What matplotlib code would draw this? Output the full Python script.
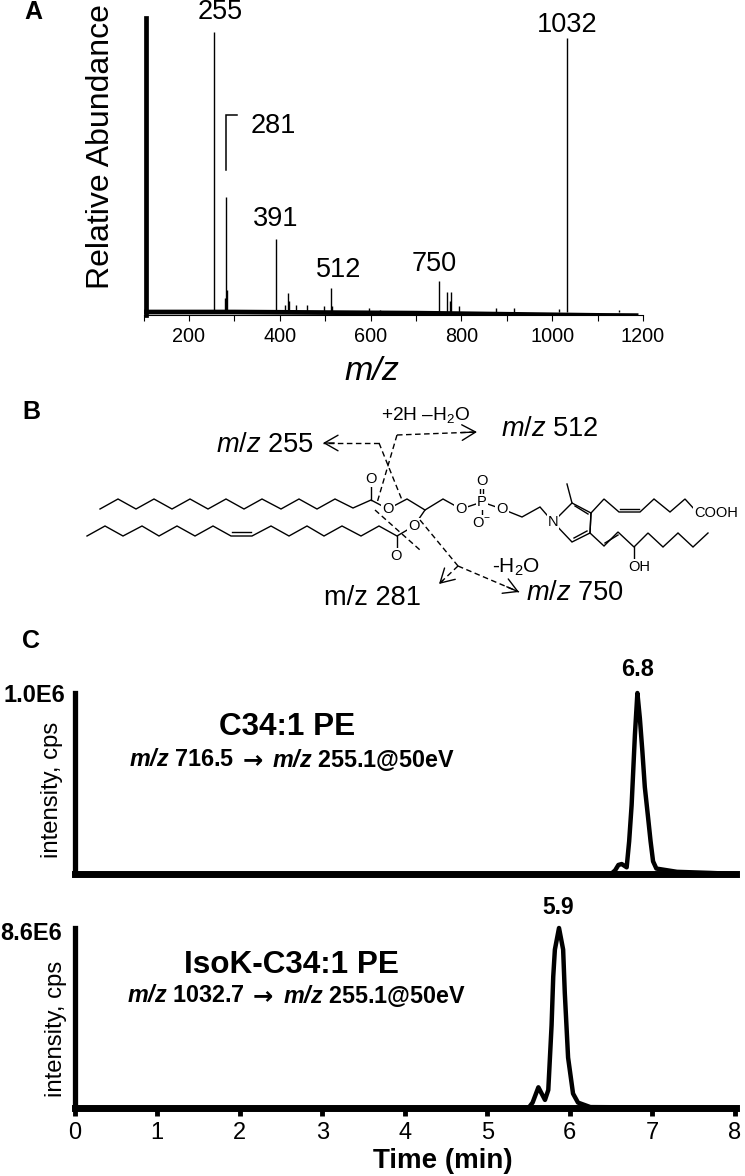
import matplotlib
matplotlib.use('Agg')
import matplotlib.pyplot as plt

plt.rcParams.update({
    'font.family': ['Liberation Sans', 'DejaVu Sans'],
    'mathtext.fontset': 'custom',
    'mathtext.rm': 'Liberation Sans',
    'mathtext.it': 'Liberation Sans:italic',
    'mathtext.bf': 'Liberation Sans:bold',
    'mathtext.bfit': 'Liberation Sans:italic:bold',
    'mathtext.default': 'regular',
})

# ---- data: panel A (MS/MS spectrum)
spec_mz = [255, 279, 281, 283, 391, 411, 418, 421, 436, 459, 497, 512, 515, 597, 620, 654,
           750, 768, 774, 778, 794, 876, 917, 1015, 1032, 1148]
spec_int = [100, 5, 41, 8, 26, 2.5, 6.9, 4, 2.5, 2.5, 2.3, 8.7, 2, 1.5, 0.6, 0.4,
            11, 7, 4, 7, 2, 1.5, 1.5, 1, 98, 0.6]
base_mz = [100, 300, 500, 700, 900, 1100, 1190]
base_int = [0, 0, -0.2, -0.4, -0.8, -1.2, -1.3]
spec_ticks = [100, 200, 300, 400, 500, 600, 700, 800, 900, 1000, 1100, 1200]
spec_ticklabels = ['', '200', '', '400', '', '600', '', '800', '', '1000', '', '1200']

# ---- data: panel C (chromatograms)
c1_time = [0, 6.50, 6.55, 6.59, 6.63, 6.69, 6.72, 6.75, 6.79, 6.82, 6.85, 6.88, 6.91, 6.95, 6.98, 7.01, 7.05, 7.3, 7.7, 8.02]
c1_int = [0, 0, 2, 5, 5.5, 3.7, 18, 38, 77, 100, 86, 68, 48, 31, 18, 7, 3, 1.2, 0.6, 0]
c2_time = [0, 5.50, 5.55, 5.62, 5.70, 5.74, 5.76, 5.78, 5.80, 5.82, 5.87, 5.92, 5.94, 5.98, 6.04, 6.10, 6.25, 8.02]
c2_int = [0, 0, 3, 11.5, 4.5, 10, 28, 46, 73, 88, 100, 88, 64, 28, 8, 3, 0.5, 0]
time_ticks = [0, 1, 2, 3, 4, 5, 6, 7, 8]

# ---- structure drawing (figure pixels)
chain_upper = [(100, 509), (118, 499), (136, 509), (154, 499), (172, 509), (190, 499), (208, 509), (226, 499),
               (244, 509), (262, 499), (281, 509), (299, 499), (317, 509), (335, 499), (353, 508), (371, 500),
               (388, 509), (407, 499), (425, 510), (443, 499), (461, 509), (482, 502), (502, 509), (522, 517),
               (540, 507), (553, 522), (572, 503), (591, 513), (590, 533), (572, 542), (553, 522)]
chain_lower = [(87, 536), (105, 526), (123, 536), (142, 526), (159, 536), (177, 526), (195, 536), (213, 526),
               (231, 536), (252, 536), (271, 526), (289, 536), (307, 526), (324, 536), (342, 526), (361, 536),
               (379, 526), (397, 536), (414, 526), (425, 510)]
chain_top = [(591, 513), (604, 499), (619, 512), (640, 512), (654, 499), (670, 512), (685, 499), (695, 510)]
chain_bot = [(590, 533), (604, 546), (618, 532), (634, 547), (648, 533), (663, 547), (678, 533), (693, 547), (708, 533)]
extra_bonds = [[(371, 500), (371, 482)], [(397, 536), (397, 553)], [(482, 502), (482, 520)],
               [(572, 503), (567, 484)], [(634, 547), (634, 562)],
               [(232, 532), (251, 532)], [(620, 509), (639, 509)], [(605, 543), (618, 535)],
               [(575, 506), (588, 514)], [(574, 538), (587, 531)], [(591, 513), (590, 533)]]
double_p = [[(480.3, 487), (480.3, 497)], [(483.2, 487), (483.2, 497)]]
atoms = [(371, 479, 'O'), (388, 509, 'O'), (396, 556, 'O'), (414, 526, 'O'), (461, 509, 'O'), (482, 502, 'P'),
         (482, 481, 'O'), (482, 523, 'O$^{-}$'), (502, 509, 'O'), (553, 522, 'N'), (716, 513, 'COOH'), (639, 567, 'OH')]
dashed = [[(379, 443), (402, 500)], [(397, 435), (377, 503)], [(375, 510), (420, 550)], [(420, 520), (458, 566)]]
dash_arrows = [[(379, 443), (323, 443)], [(397, 435), (477, 432)], [(458, 566), (439, 584)], [(458, 566), (519, 592)]]

W, H = 745, 1176
fig = plt.figure(figsize=(W / 100, H / 100), dpi=100, facecolor='white')


def axes_px(left, top, right, bottom):
    return fig.add_axes([left / W, 1 - bottom / H, (right - left) / W, (bottom - top) / H], facecolor='none')


# ---- panel A
axA = axes_px(143.5, 18, 643, 315)
axA.set_xlim(100, 1200)
axA.set_ylim(-1.07, 105)
axA.vlines(spec_mz, 0, spec_int, color='black', lw=1.0)
axA.plot(base_mz, base_int, color='black', lw=3.4, solid_capstyle='butt')
for s in ('top', 'right'):
    axA.spines[s].set_visible(False)
axA.spines['bottom'].set_linewidth(0.8)
axA.spines['left'].set_linewidth(3.4)
axA.spines['left'].set_position(('outward', -1.8))
axA.set_yticks([])
axA.set_xticks(spec_ticks, spec_ticklabels)
axA.tick_params(axis='x', length=4, width=0.8, labelsize=14.3, pad=5)

# ---- panel C
for (t, v, top, bottom) in ((c1_time, c1_int, 693, 874), (c2_time, c2_int, 928, 1108)):
    ax = axes_px(74.7, top, 736.4, bottom)
    ax.set_xlim(0, 8.02)
    ax.set_ylim(0, 100)
    ax.plot(t, v, color='black', lw=3.2, clip_on=False, solid_joinstyle='round')
    for s in ('top', 'right'):
        ax.spines[s].set_visible(False)
    ax.spines['left'].set_linewidth(3.8)
    ax.spines['bottom'].set_linewidth(5)
    ax.set_yticks([])
    if bottom == 1108:
        ax.set_xticks(time_ticks)
        ax.tick_params(axis='x', length=6, width=3.5, labelsize=17, pad=4)
    else:
        ax.set_xticks([])

# ---- overlay for labels and structure
ov = fig.add_axes([0, 0, 1, 1], facecolor='none', zorder=5)
ov.set_xlim(0, W)
ov.set_ylim(H, 0)
ov.axis('off')


def polyline(pts, **kw):
    xs, ys = zip(*pts)
    style = dict(color='black', lw=1.0, solid_joinstyle='miter', zorder=2)
    style.update(kw)
    ov.plot(xs, ys, **style)


def txt(x, y, s, size, **kw):
    style = dict(ha='center', va='center', fontsize=size, color='black')
    style.update(kw)
    ov.text(x, y, s, **style)


for pts in (chain_upper, chain_lower, chain_top, chain_bot):
    polyline(pts)
for pts in extra_bonds + double_p:
    polyline(pts)
for x, y, s in atoms:
    txt(x, y, s, 10.5, zorder=3, bbox=dict(facecolor='white', edgecolor='none', pad=0.6))
for pts in dashed:
    polyline(pts, ls=(0, (4, 2.5)), lw=1.0, zorder=4)
for pts in dash_arrows:
    polyline(pts, ls=(0, (4, 2.5)), lw=1.0, zorder=4)
    (x0, y0), (x1, y1) = pts
    ov.annotate('', xy=(x1, y1), xytext=(x1 + (x0 - x1) * 0.2, y1 + (y0 - y1) * 0.2),
                arrowprops=dict(arrowstyle='->,head_length=0.7,head_width=0.4', lw=1.0, color='black',
                                shrinkA=0, shrinkB=0, mutation_scale=14), zorder=4)

# panel letters
txt(33.5, 12, 'A', 18, fontweight='bold')
txt(31, 412, 'B', 18, fontweight='bold')
txt(31, 641, 'C', 18, fontweight='bold')

# panel A labels
txt(220, 12, '255', 19.5)
txt(567, 25, '1032', 19.5)
txt(273, 126, '281', 19.5)
txt(276, 219, '391', 19.5)
txt(339, 270, '512', 19.5)
txt(434, 264, '750', 19.5)
polyline([(237, 115), (226, 115), (226, 170)], lw=1.1)
txt(101, 147, 'Relative Abundance', 23, rotation=90)
txt(372, 372, 'm/z', 24.5, style='italic')

# panel B labels
IT = r'$\mathit{m/z}$'
txt(265, 445, IT + ' 255', 19.6)
txt(550, 429, IT + ' 512', 19.6)
txt(575, 593, IT + ' 750', 19.6)
txt(373, 598, 'm/z 281', 19.6)
txt(426, 415, '+2H –H$_{2}$O', 13.8)
txt(516, 567, '-H$_{2}$O', 15)

# panel C labels
BI = r'$\mathbfit{m/z}$'
txt(34, 695, '1.0E6', 17, fontweight='bold')
txt(31, 933, '8.6E6', 17, fontweight='bold')
txt(52, 790, 'intensity, cps', 17.2, rotation=90)
txt(56, 1029, 'intensity, cps', 17.2, rotation=90)
txt(287, 727, 'C34:1 PE', 22.7, fontweight='bold')
txt(291, 965, 'IsoK-C34:1 PE', 22.7, fontweight='bold')
txt(129, 760, BI + ' 716.5', 16.8, fontweight='bold', ha='left')
txt(252.5, 760, '→', 17.5, fontweight='bold', family='DejaVu Sans')
txt(272, 760, BI + ' 255.1@50eV', 16.8, fontweight='bold', ha='left')
txt(127, 996, BI + ' 1032.7', 16.8, fontweight='bold', ha='left')
txt(263, 996, '→', 17.5, fontweight='bold', family='DejaVu Sans')
txt(283, 996, BI + ' 255.1@50eV', 16.8, fontweight='bold', ha='left')
txt(638, 669, '6.8', 17, fontweight='bold')
txt(558, 908, '5.9', 16.5, fontweight='bold')
txt(443, 1161, 'Time (min)', 20, fontweight='bold')

fig.savefig('out.png', dpi=100)
